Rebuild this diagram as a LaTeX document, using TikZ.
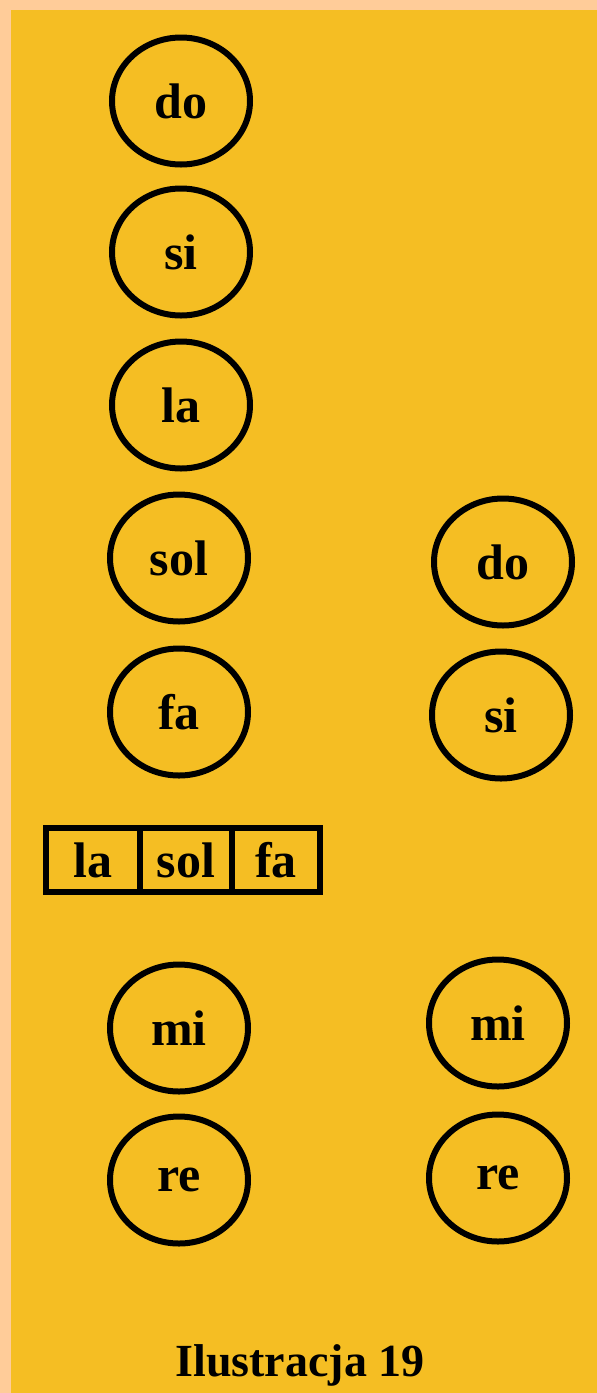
\documentclass[tikz,border=0pt]{standalone}
\usepackage{fontspec}
\setmainfont{Liberation Serif}
\usetikzlibrary{shapes.geometric}
\definecolor{peach}{RGB}{255,204,153}
\definecolor{gold}{RGB}{245,190,35}
\tikzset{
  note/.style={ellipse, draw=black, line width=6pt, minimum width=138pt, minimum height=127pt, inner sep=0pt, font=\bfseries\fontsize{50}{50}\selectfont},
  cell/.style={rectangle, draw=black, line width=5.5pt, minimum height=64pt, inner sep=0pt, font=\bfseries\fontsize{50}{50}\selectfont},
  caption/.style={font=\bfseries\fontsize{46}{46}\selectfont}
}
\begin{document}
\begin{tikzpicture}[x=1pt,y=-1pt]
\fill[peach] (0,0) rectangle (597,1393);
\fill[gold] (11,10) rectangle (597,1393);
\useasboundingbox (0,0) rectangle (597,1393);
% left column
\node[note] (ldo)  at (181,101) {do};
\node[note] (lsi)  at (181,252) {si};
\node[note] (lla)  at (181,405) {la};
\node[note] (lsol) at (179,558) {sol};
\node[note] (lfa)  at (179,712) {fa};
\node[note] (lmi)  at (179,1028) {mi};
\node[note] (lre)  at (179,1180) {re};
% right column
\node[note] (rdo)  at (503,562) {do};
\node[note] (rsi)  at (501,715) {si};
\node[note] (rmi)  at (498,1023) {mi};
\node[note] (rre)  at (498,1178) {re};
% box
\node[cell, minimum width=94pt] (bla) at (93,860) {la};
\node[cell, minimum width=92pt] (bsol) at (186,860) {sol};
\node[cell, minimum width=88pt] (bfa) at (276,860) {fa};
% caption
\node[caption] (cap) at (300,1365) {Ilustracja 19};
\end{tikzpicture}
\end{document}
